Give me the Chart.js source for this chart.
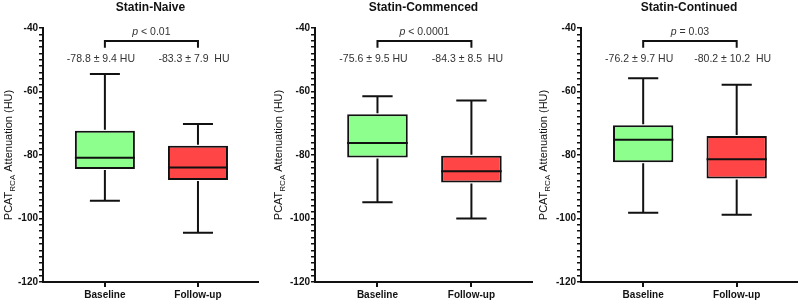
<!DOCTYPE html>
<html>
<head>
<meta charset="utf-8">
<script src="https://cdn.jsdelivr.net/npm/chart.js@4.4.1/dist/chart.umd.min.js"></script>
<style>
  body { margin: 0; background: #fff; }
  #wrap { position: relative; width: 800px; height: 302px; }
  .panel { position: absolute; top: 0; height: 302px; }
</style>
</head>
<body>
<div id="wrap">
  <div class="panel" style="left:0;width:262px"><canvas id="c0"></canvas></div>
  <div class="panel" style="left:265px;width:270px"><canvas id="c1"></canvas></div>
  <div class="panel" style="left:530px;width:270px"><canvas id="c2"></canvas></div>
</div>
<script>
// ---------- DATA ----------
const groups = ['Baseline', 'Follow-up'];
const titles = ['Statin-Naive', 'Statin-Commenced', 'Statin-Continued'];

// box plot stats per panel: [Baseline, Follow-up]
const whiskerLow  = [[-94.4, -104.5], [-94.9, -100.0], [-98.2, -98.8]];
const q1          = [[-84.4, -87.9],  [-80.8, -88.7],  [-82.3, -87.4]];
const medians     = [[-80.9, -83.9],  [-76.2, -85.1],  [-75.2, -81.3]];
const q3          = [[-72.4, -77.1],  [-67.2, -80.2],  [-70.6, -74.0]];
const whiskerHigh = [[-54.5, -70.2],  [-61.5, -62.8],  [-55.8, -57.9]];

const meanLabels = [
  ['-78.8 ± 9.4 HU', '-83.3 ± 7.9  HU'],
  ['-75.6 ± 9.5 HU', '-84.3 ± 8.5  HU'],
  ['-76.2 ± 9.7 HU', '-80.2 ± 10.2  HU']
];
const pValues = ['< 0.01', '< 0.0001', '= 0.03'];

const yMin = -120, yMax = -40, yMajor = 20, yMinor = 2;

// ---------- STYLE ----------
const boxColors = ['#8CFF8C', '#FF4545'];
const ink = '#111';
const textInk = '#333';
const fontFamily = 'Arial, "Liberation Sans", Helvetica, sans-serif';

// canvas layout per panel
const panels = [
  { axisW: 43, right: 4, titleX: 8 },
  { axisW: 50, right: 3, titleX: 13 },
  { axisW: 51, right: 3, titleX: 13 }
];

// draws whiskers, medians, bracket, labels, titles
const boxExtras = {
  id: 'boxExtras',
  afterDatasetsDraw(chart) {
    const k = chart.options.plugins.boxExtras.panel;
    const ctx = chart.ctx;
    const y = chart.scales.y;
    const area = chart.chartArea;
    const bars = chart.getDatasetMeta(0).data;

    ctx.save();
    ctx.strokeStyle = ink;
    ctx.lineWidth = 2;
    ctx.lineCap = 'butt';

    bars.forEach((bar, i) => {
      const half = bar.width / 2;
      const cap = bar.width / 4;
      const yHi = y.getPixelForValue(whiskerHigh[k][i]);
      const yLo = y.getPixelForValue(whiskerLow[k][i]);
      const yQ3 = y.getPixelForValue(q3[k][i]);
      const yQ1 = y.getPixelForValue(q1[k][i]);
      const yMed = y.getPixelForValue(medians[k][i]);

      ctx.beginPath();
      ctx.moveTo(bar.x, yQ3 - 1); ctx.lineTo(bar.x, yHi);
      ctx.moveTo(bar.x - cap, yHi); ctx.lineTo(bar.x + cap, yHi);
      ctx.moveTo(bar.x, yQ1 + 1); ctx.lineTo(bar.x, yLo);
      ctx.moveTo(bar.x - cap, yLo); ctx.lineTo(bar.x + cap, yLo);
      ctx.moveTo(bar.x - half, yMed); ctx.lineTo(bar.x + half, yMed);
      ctx.stroke();

      // mean +- sd label
      ctx.fillStyle = textInk;
      ctx.font = '10.5px ' + fontFamily;
      ctx.textAlign = 'center';
      ctx.textBaseline = 'middle';
      ctx.fillText(meanLabels[k][i], bar.x - 4, y.getPixelForValue(-49.8));
    });

    // significance bracket
    const xa = bars[0].x, xb = bars[1].x;
    const yTop = y.getPixelForValue(-44.1);
    const yEnd = y.getPixelForValue(-46.2);
    ctx.beginPath();
    ctx.moveTo(xa, yEnd); ctx.lineTo(xa, yTop); ctx.lineTo(xb, yTop); ctx.lineTo(xb, yEnd);
    ctx.stroke();

    // p value, italic p
    const rest = ' ' + pValues[k];
    ctx.font = 'italic 10.5px ' + fontFamily;
    const wp = ctx.measureText('p').width;
    ctx.font = '10.5px ' + fontFamily;
    const wr = ctx.measureText(rest).width;
    const px0 = (xa + xb) / 2 - (wp + wr) / 2;
    const py = y.getPixelForValue(-41.3);
    ctx.textAlign = 'left';
    ctx.textBaseline = 'middle';
    ctx.font = 'italic 10.5px ' + fontFamily;
    ctx.fillText('p', px0, py);
    ctx.font = '10.5px ' + fontFamily;
    ctx.fillText(rest, px0 + wp, py);

    // panel title
    ctx.fillStyle = ink;
    ctx.font = 'bold 12px ' + fontFamily;
    ctx.textAlign = 'center';
    ctx.fillText(titles[k], (area.left + area.right) / 2, 8);

    // y axis title with subscript
    const cy = (area.top + area.bottom) / 2;
    ctx.translate(panels[k].titleX, cy);
    ctx.rotate(-Math.PI / 2);
    ctx.textAlign = 'left';
    ctx.textBaseline = 'alphabetic';
    const big = '11px ' + fontFamily, small = '8px ' + fontFamily;
    ctx.font = big; const w1 = ctx.measureText('PCAT').width;
    ctx.font = small; const w2 = ctx.measureText('RCA').width;
    ctx.font = big; const w3 = ctx.measureText(' Attenuation (HU)').width;
    let sx = -(w1 + w2 + w3) / 2;
    ctx.font = big; ctx.fillText('PCAT', sx, 4);
    ctx.font = small; ctx.fillText('RCA', sx + w1, 6.5);
    ctx.font = big; ctx.fillText(' Attenuation (HU)', sx + w1 + w2, 4);
    ctx.restore();
  }
};

function makeChart(k) {
  const ctx = document.getElementById('c' + k).getContext('2d');
  const lay = panels[k];
  return new Chart(ctx, {
    type: 'bar',
    data: {
      datasets: [{
        data: groups.map((g, i) => ({ x: i, y: [q1[k][i], q3[k][i]] })),
        backgroundColor: boxColors,
        borderColor: ink,
        borderWidth: 2,
        borderSkipped: false,
        barPercentage: 0.645,
        categoryPercentage: 1
      }]
    },
    options: {
      responsive: true,
      maintainAspectRatio: false,
      animation: false,
      layout: { padding: { top: 28, right: lay.right, bottom: 0, left: 0 } },
      plugins: {
        legend: { display: false },
        tooltip: { enabled: false },
        title: { display: false },
        boxExtras: { panel: k }
      },
      scales: {
        x: {
          type: 'linear',
          min: -0.665,
          max: 1.645,
          offset: false,
          border: { color: ink, width: 2 },
          grid: { offset: false, drawOnChartArea: false, tickLength: 5, lineWidth: 2, color: ink },
          ticks: {
            stepSize: 1,
            includeBounds: false,
            autoSkip: false,
            maxRotation: 0,
            padding: 2,
            color: ink,
            font: { family: fontFamily, size: 10, weight: 'bold' },
            callback: (v) => groups[v] ?? ''
          },
          afterFit: (s) => { s.height = 20; }
        },
        y: {
          min: yMin,
          max: yMax,
          border: { color: ink, width: 2 },
          grid: { drawOnChartArea: false, tickLength: 4, lineWidth: 1.5, color: ink },
          ticks: {
            stepSize: yMinor,
            autoSkip: false,
            padding: 1,
            color: ink,
            font: { family: fontFamily, size: 10, weight: 'bold' },
            callback: (v) => (v % yMajor === 0 ? String(v) : '')
          },
          afterFit: (s) => { s.width = lay.axisW; }
        }
      }
    },
    plugins: [boxExtras]
  });
}

titles.forEach((t, k) => makeChart(k));
</script>
</body>
</html>
